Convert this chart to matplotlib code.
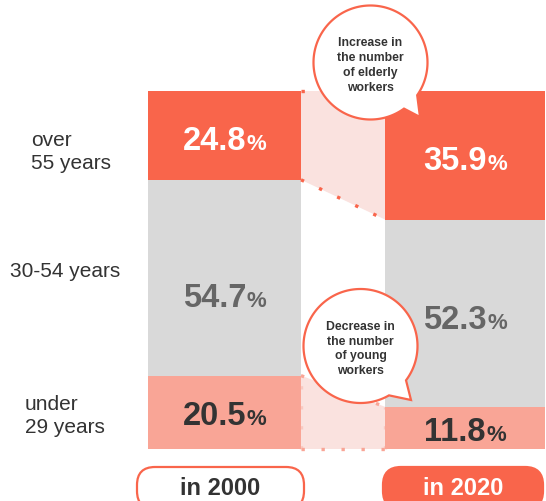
import numpy as np
import matplotlib
matplotlib.use("Agg")
import matplotlib.pyplot as plt
from matplotlib.patches import Polygon, PathPatch, FancyBboxPatch
from matplotlib.path import Path

plt.rcParams["font.family"] = ["Liberation Sans", "DejaVu Sans"]

# workforce share by age group, bottom to top
years = ["in 2000", "in 2020"]
age_groups = ["under\n29 years", "30-54 years", "over\n55 years"]
share_2000 = [20.5, 54.7, 24.8]
share_2020 = [11.8, 52.3, 35.9]
callouts = [
    "Increase in\nthe number\nof elderly\nworkers",
    "Decrease in\nthe number\nof young\nworkers",
]

ORANGE = "#f9654b"
GRAY = "#d9d9d9"
PINK = "#f9a596"
PALE = "#fae2df"
DARK = "#333333"
seg_colors = [PINK, GRAY, ORANGE]
num_colors = [DARK, "#666666", "white"]

# layout in pixels (figure is 546 x 502)
W, H = 546, 502
BAR_X = [148, 385]
BAR_W = [153, 160]
BAR_TOP, BAR_BOTTOM = 92, 450
PX_PER_PCT = (BAR_BOTTOM - BAR_TOP) / 100.0

fig = plt.figure(figsize=(W / 100, H / 100), dpi=100)
ax = fig.add_axes([0, 0, 1, 1])
ax.set_xlim(0, W)
ax.set_ylim(-(H - BAR_BOTTOM) / PX_PER_PCT, BAR_BOTTOM / PX_PER_PCT)
ax.axis("off")

shares = [np.array(share_2000), np.array(share_2020)]
bottoms = [np.concatenate([[0], np.cumsum(s)[:-1]]) for s in shares]

for i in range(2):
    ax.bar(np.full(3, BAR_X[i]), shares[i], bottom=bottoms[i], width=BAR_W[i],
           align="edge", color=seg_colors, linewidth=0, zorder=2)

# connectors between the two bars
xl = BAR_X[0] + BAR_W[0]
xr = BAR_X[1]
top_l = bottoms[0][2]
top_r = bottoms[1][2]
ax.add_patch(Polygon([(xl, 100), (xr, 100), (xr, top_r), (xl, top_l)],
                     closed=True, facecolor=PALE, edgecolor="none", zorder=1))
dots = dict(linestyle=(0, (1, 5)), linewidth=2.4, dash_capstyle="butt", zorder=3)
ax.plot([xl, xr], [100, 100], color=ORANGE, **dots)
ax.plot([xl, xr], [top_l, top_r], color=ORANGE, **dots)

low_l = shares[0][0]
low_r = shares[1][0]
ax.add_patch(Polygon([(xl, low_l), (xr, low_r), (xr, 0), (xl, 0)],
                     closed=True, facecolor=PALE, edgecolor="none", zorder=1))
ax.plot([xl, xr], [low_l, low_r], color=PINK, **dots)
ax.plot([xl, xr], [0, 0], color=PINK, **dots)
ax.plot([xl, xl], [0, low_l], color=PINK, alpha=0.4, **dots)
ax.plot([xr, xr], [0, low_r], color=PINK, alpha=0.4, **dots)

# value labels: big digits followed by a smaller percent sign
renderer = fig.canvas.get_renderer()
CAP_PX = 11.4          # half the digit cap height
GAP_PX = 0.5
# vertical nudge in pixels, positive moves the label down
nudge = [[0, 17, 2], [0.5, 3, 2]]
for i in range(2):
    for j in range(3):
        val = shares[i][j]
        cx = BAR_X[i] + BAR_W[i] / 2
        y = bottoms[i][j] + val / 2 - (nudge[i][j] + CAP_PX) / PX_PER_PCT
        style = dict(fontweight="bold", color=num_colors[j], va="baseline",
                     ha="left", textcoords="offset pixels", zorder=4)
        t_num = ax.annotate(f"{val:.1f}", (cx, y), xytext=(0, 0), fontsize=23.5, **style)
        t_pct = ax.annotate("%", (cx, y), xytext=(0, 0), fontsize=16, **style)
        w_num = t_num.get_window_extent(renderer).width
        w_pct = t_pct.get_window_extent(renderer).width
        left = -(w_num + GAP_PX + w_pct) / 2
        t_num.set_position((left, 0))
        t_pct.set_position((left + w_num + GAP_PX, 0))

# age group labels
label_x = [25, 10, 31]
label_y = [9.5, 49.8, 83.2]
for name, x, y in zip(age_groups, label_x, label_y):
    ax.text(x, y, name, fontsize=15, color=DARK, ha="left", va="center",
            linespacing=1.25)

# overlay in pixel coordinates for callouts and year tags
deco = fig.add_axes([0, 0, 1, 1], zorder=5)
deco.set_xlim(0, W)
deco.set_ylim(H, 0)
deco.axis("off")
deco.patch.set_alpha(0)


def bubble(cx, cy, r, a1, a2, tip):
    t = np.radians(np.linspace(a2, a1 + 360, 200))
    pts = np.column_stack([cx + r * np.cos(t), cy + r * np.sin(t)])
    pts = np.vstack([pts, tip, pts[:1]])
    codes = [Path.MOVETO] + [Path.LINETO] * (len(pts) - 2) + [Path.CLOSEPOLY]
    return PathPatch(Path(pts, codes), facecolor="white", edgecolor=ORANGE,
                     linewidth=1.6, joinstyle="miter")


bubbles = [(370.5, 63.5, 57, 35, 54, (420, 118)),
           (360.5, 347, 57, 37, 60, (411, 401))]
for (cx, cy, r, a1, a2, tip), text in zip(bubbles, callouts):
    deco.add_patch(bubble(cx, cy, r, a1, a2, tip))
    deco.text(cx, cy + 2, text, fontsize=8.8, fontweight="bold", color=DARK,
              ha="center", va="center", linespacing=1.3)

# year tags under the bars
tag_x = [137, 383]
tag_w = [167, 160]
for i, year in enumerate(years):
    filled = i == 1
    deco.add_patch(FancyBboxPatch((tag_x[i], 468), tag_w[i], 42,
                                  boxstyle="round,pad=0,rounding_size=18",
                                  facecolor=ORANGE if filled else "white",
                                  edgecolor=ORANGE, linewidth=1.6))
    deco.text(tag_x[i] + tag_w[i] / 2, 495, year, fontsize=17, fontweight="bold",
              color="white" if filled else DARK, ha="center", va="baseline")

fig.savefig("out.png", dpi=100)
